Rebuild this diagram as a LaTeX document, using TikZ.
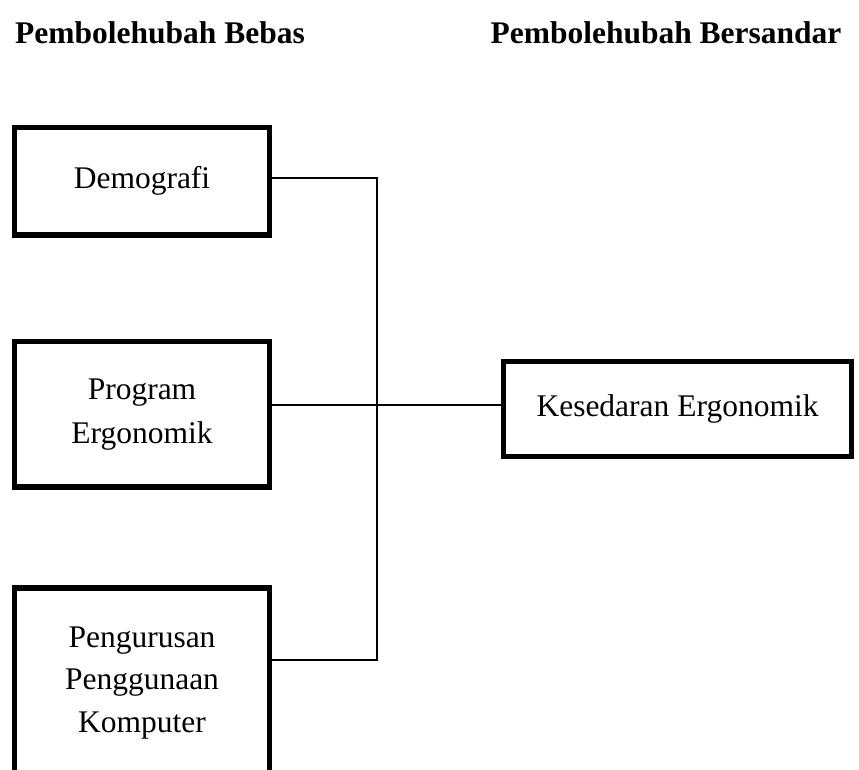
\documentclass[tikz,border=0pt]{standalone}
\usepackage{fontspec}
\setmainfont{Liberation Serif}
\begin{document}
\begin{tikzpicture}[x=1pt,y=-1pt,
  box/.style={draw=black, line width=5.5pt, rectangle, outer sep=0pt, inner sep=0pt,
    align=center, anchor=north west, minimum width=255pt,
    font=\fontsize{31.5}{44}\selectfont},
  lbl/.style={inner sep=0pt, align=center, font=\fontsize{31.5}{42.5}\selectfont},
  title/.style={font=\fontsize{31.5}{38}\selectfont\bfseries, inner sep=0pt, anchor=base},
  conn/.style={line width=2pt}]
\useasboundingbox (0,0) rectangle (859,769);
\clip (0,0) rectangle (859,769);

\node[title] (h1) at (160,43) {Pembolehubah Bebas};
\node[title] (h2) at (666,43) {Pembolehubah Bersandar};

\coordinate (j1) at (377,178);
\coordinate (j2) at (377,405);
\coordinate (j3) at (377,660);

\node[box, minimum height=107.5pt] (b1) at (14.5,127.5) {Demografi};
\node[box, minimum height=145.5pt] (b2) at (14.5,341.5) {Program\\Ergonomik};
\node[box, minimum height=220pt] (b3) at (14.5,588) {};
\node[lbl] (b3t) at (142,682.6) {Pengurusan\\Penggunaan\\Komputer};
\node[box, minimum width=348pt, minimum height=95pt] (b4) at (503.5,361.5) {Kesedaran Ergonomik};

\draw[conn] (b1.east |- j1) -- (j1) -- (j3) -- (b3.east |- j3);
\draw[conn] (b2.east |- j2) -- (b4.west |- j2);
\end{tikzpicture}
\end{document}
